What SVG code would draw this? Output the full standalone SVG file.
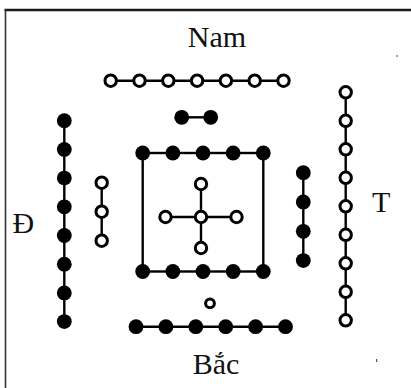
<svg xmlns="http://www.w3.org/2000/svg" width="411" height="388" viewBox="0 0 411 388">
<style>
.lbl{font-family:"Liberation Serif","Times New Roman",serif;font-size:30px;fill:#111}
.w{fill:#fff;stroke:#000;stroke-width:3}
.b{fill:#000}
.ln{stroke:#000;stroke-width:2.4;fill:none}
</style>
<defs>
<circle id="wd" r="5.7" class="w"/>
<circle id="bd" r="7.4" class="b"/>
</defs>
<rect width="411" height="388" fill="#fff"/>
<g id="frame">
<line x1="4.5" y1="10" x2="411" y2="10" stroke="#1a1a1a" stroke-width="2.6"/>
<line x1="5.5" y1="10" x2="5.5" y2="388" stroke="#333" stroke-width="1.6"/>
<rect x="396.5" y="55" width="1.2" height="2" fill="#666"/>
<rect x="376" y="359" width="1.2" height="3" fill="#555"/>
</g>
<g id="connectors">
<line class="ln" x1="110.7" y1="80.7" x2="283.5" y2="80.7"/>
<line class="ln" x1="181.7" y1="117.3" x2="210.7" y2="117.3"/>
<line class="ln" x1="64.3" y1="120.7" x2="64.3" y2="321.6"/>
<line class="ln" x1="101.7" y1="182.7" x2="101.7" y2="240.7"/>
<line class="ln" x1="303.3" y1="172.7" x2="303.3" y2="260.6"/>
<line class="ln" x1="345.7" y1="92.3" x2="345.7" y2="320.3"/>
<rect class="ln" x="142.7" y="153" width="120.6" height="118.5"/>
<line class="ln" x1="165.5" y1="217" x2="236.5" y2="217"/>
<line class="ln" x1="201" y1="184" x2="201" y2="248"/>
<line class="ln" x1="136" y1="326.7" x2="285.5" y2="326.7"/>
</g>
<g id="nam-7-white">
<use href="#wd" x="110.7" y="80.7"/><use href="#wd" x="139.5" y="80.7"/><use href="#wd" x="168.3" y="80.7"/><use href="#wd" x="197.1" y="80.7"/><use href="#wd" x="225.9" y="80.7"/><use href="#wd" x="254.7" y="80.7"/><use href="#wd" x="283.5" y="80.7"/>
</g>
<g id="nam-2-black">
<use href="#bd" x="181.7" y="117.3"/><use href="#bd" x="210.7" y="117.3"/>
</g>
<g id="dong-8-black">
<use href="#bd" x="64.3" y="120.7"/><use href="#bd" x="64.3" y="149.4"/><use href="#bd" x="64.3" y="178.1"/><use href="#bd" x="64.3" y="206.8"/><use href="#bd" x="64.3" y="235.5"/><use href="#bd" x="64.3" y="264.2"/><use href="#bd" x="64.3" y="292.9"/><use href="#bd" x="64.3" y="321.6"/>
</g>
<g id="dong-3-white">
<use href="#wd" x="101.7" y="182.7"/><use href="#wd" x="101.7" y="211.7"/><use href="#wd" x="101.7" y="240.7"/>
</g>
<g id="tay-4-black">
<use href="#bd" x="303.3" y="172.7"/><use href="#bd" x="303.3" y="202"/><use href="#bd" x="303.3" y="231.3"/><use href="#bd" x="303.3" y="260.6"/>
</g>
<g id="tay-9-white">
<use href="#wd" x="345.7" y="92.3"/><use href="#wd" x="345.7" y="120.8"/><use href="#wd" x="345.7" y="149.3"/><use href="#wd" x="345.7" y="177.8"/><use href="#wd" x="345.7" y="206.3"/><use href="#wd" x="345.7" y="234.8"/><use href="#wd" x="345.7" y="263.3"/><use href="#wd" x="345.7" y="291.8"/><use href="#wd" x="345.7" y="320.3"/>
</g>
<g id="center-10-top">
<use href="#bd" x="142.7" y="153"/><use href="#bd" x="172.85" y="153"/><use href="#bd" x="203" y="153"/><use href="#bd" x="233.15" y="153"/><use href="#bd" x="263.3" y="153"/>
</g>
<g id="center-10-bottom">
<use href="#bd" x="142.7" y="271.5"/><use href="#bd" x="172.85" y="271.5"/><use href="#bd" x="203" y="271.5"/><use href="#bd" x="233.15" y="271.5"/><use href="#bd" x="263.3" y="271.5"/>
</g>
<g id="center-5-white">
<use href="#wd" x="201" y="217"/><use href="#wd" x="201" y="184"/><use href="#wd" x="201" y="248"/><use href="#wd" x="165.5" y="217"/><use href="#wd" x="236.5" y="217"/>
</g>
<g id="bac-1-white">
<circle cx="210" cy="303.3" r="4.4" class="w" stroke-width="2.6"/>
</g>
<g id="bac-6-black">
<use href="#bd" x="136" y="326.7"/><use href="#bd" x="165.9" y="326.7"/><use href="#bd" x="195.8" y="326.7"/><use href="#bd" x="225.7" y="326.7"/><use href="#bd" x="255.6" y="326.7"/><use href="#bd" x="285.5" y="326.7"/>
</g>
<g id="labels">
<text class="lbl" x="217" y="47" text-anchor="middle">Nam</text>
<text class="lbl" x="216" y="374" text-anchor="middle">Bắc</text>
<text class="lbl" x="12.5" y="233">Đ</text>
<text class="lbl" x="372" y="212">T</text>
</g>
</svg>
